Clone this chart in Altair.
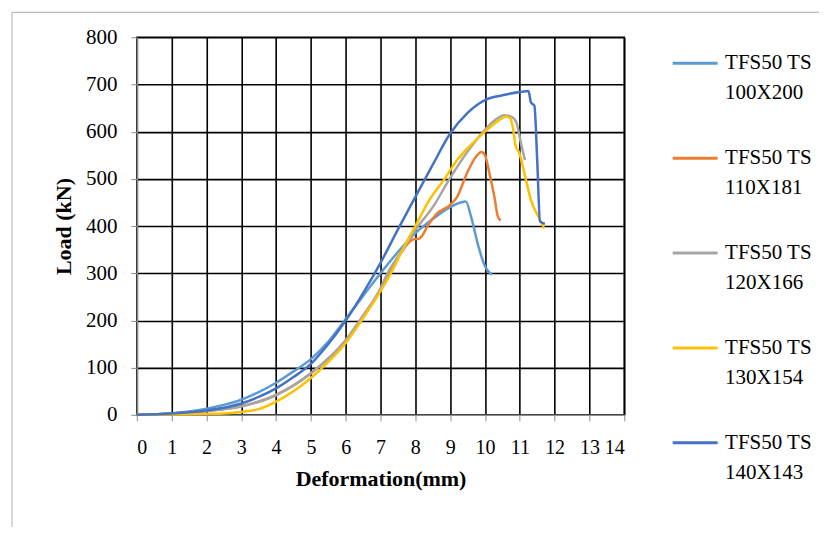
import altair as alt
import pandas as pd

series_names = [
    "TFS50 TS\n100X200",
    "TFS50 TS\n110X181",
    "TFS50 TS\n120X166",
    "TFS50 TS\n130X154",
    "TFS50 TS\n140X143",
]
colors = ["#5B9BD5", "#ED7D31", "#A5A5A5", "#FFC000", "#4472C4"]

x_100 = [0, 0.5, 1, 1.5, 2, 2.5, 3, 3.5, 4, 4.5, 5, 5.5, 6, 6.5, 7, 7.5, 8, 8.5, 9, 9.3, 9.45, 9.6, 9.8, 10.0, 10.2]
y_100 = [0, 1, 3, 7, 13, 21, 32, 48, 68, 92, 118, 155, 203, 252, 300, 345, 385, 415, 440, 450, 452, 420, 360, 315, 297]

x_110 = [0, 1, 2, 3, 4, 5, 6, 6.5, 7, 7.2, 7.6, 7.95, 8.1, 8.2, 8.35, 8.6, 9.0, 9.2, 9.5, 9.75, 9.9, 10.0, 10.13, 10.27, 10.37, 10.45]
y_110 = [0, 3, 8, 18, 42, 88, 158, 210, 265, 296, 345, 372, 373, 380, 400, 425, 445, 462, 515, 548, 557, 550, 511, 462, 420, 412]

x_120 = [0, 1, 2, 3, 4, 5, 6, 6.5, 7, 7.2, 7.6, 8, 8.5, 9, 9.5, 10, 10.3, 10.55, 10.75, 10.9, 10.98, 11.05, 11.15]
y_120 = [0, 3, 8, 18, 42, 88, 158, 210, 268, 300, 345, 392, 440, 502, 558, 604, 625, 635, 632, 620, 595, 570, 540]

x_130 = [0, 1, 2, 2.5, 3, 3.5, 4, 4.5, 5, 5.5, 6, 6.5, 7, 7.3, 7.6, 8, 8.4, 8.84, 9.2, 9.6, 10, 10.4, 10.6, 10.7, 10.8, 10.88, 10.98, 11.18, 11.32, 11.5, 11.7]
y_130 = [0, 1, 2, 3, 6, 12, 28, 50, 78, 112, 152, 205, 262, 300, 345, 400, 455, 500, 540, 572, 600, 624, 632, 630, 610, 570, 556, 497, 455, 425, 395]

x_140 = [0, 1, 2, 3, 3.5, 4, 4.5, 5, 5.5, 6, 6.5, 7, 7.5, 8, 8.5, 9, 9.5, 10, 10.5, 11, 11.25, 11.32, 11.42, 11.5, 11.58, 11.72]
y_140 = [0, 3, 9, 24, 38, 56, 80, 108, 150, 200, 258, 322, 393, 462, 530, 596, 640, 667, 677, 684, 686, 662, 655, 540, 410, 405]

all_x = [x_100, x_110, x_120, x_130, x_140]
all_y = [y_100, y_110, y_120, y_130, y_140]

rows = []
for name, xs, ys in zip(series_names, all_x, all_y):
    for i, (xv, yv) in enumerate(zip(xs, ys)):
        rows.append({"series": name, "x": xv, "y": yv, "i": i})
df = pd.DataFrame(rows)

x_ticks = list(range(0, 15))
y_ticks = list(range(0, 801, 100))

serif = "Liberation Serif, Times New Roman, Times, serif"

lines = alt.Chart(df).mark_line(strokeWidth=2.5, interpolate="monotone").encode(
    x=alt.X("x:Q",
            scale=alt.Scale(domain=[0, 14], nice=False, zero=False),
            axis=alt.Axis(values=x_ticks, title="Deformation(mm)", format="d",
                          labelFont=serif, labelFontSize=20, labelColor="black",
                          labelPadding=17, tickSize=6, tickColor="#8c8c8c",
                          domainColor="#8c8c8c", domainWidth=1.5,
                          titleFont=serif, titleFontSize=22, titleFontWeight="bold",
                          titleColor="black", titlePadding=11,
                          gridColor="black", gridWidth=1.6, gridOpacity=1)),
    y=alt.Y("y:Q",
            scale=alt.Scale(domain=[0, 800], nice=False),
            axis=alt.Axis(values=y_ticks, title="Load (kN)",
                          labelFont=serif, labelFontSize=21, labelColor="black",
                          labelPadding=14, tickSize=6, tickColor="#8c8c8c",
                          domainColor="#8c8c8c", domainWidth=1.5,
                          titleFont=serif, titleFontSize=22, titleFontWeight="bold",
                          titleColor="black", titlePadding=10,
                          gridColor="black", gridWidth=1.6, gridOpacity=1)),
    color=alt.Color("series:N",
                    scale=alt.Scale(domain=series_names, range=colors),
                    sort=series_names,
                    legend=alt.Legend(title=None, orient="none", legendX=535, legendY=2,
                                      symbolType="stroke", symbolSize=2025,
                                      symbolStrokeWidth=3, labelFont=serif,
                                      labelFontSize=21, labelColor="black",
                                      labelExpr="split(datum.label, '\\n')",
                                      rowPadding=31, labelOffset=6, labelLimit=300,
                                      labelBaseline="middle", padding=0)),
    order=alt.Order("i:Q"),
)

border = alt.Chart(alt.Data(values=[{}])).mark_rect(
    fill=None, stroke="#bdbdbd", strokeWidth=1.2
).encode(
    x=alt.value(-125), y=alt.value(-25), x2=alt.value(720), y2=alt.value(560)
)

chart = alt.layer(border, lines).properties(
    width=488, height=378,
    padding={"left": 129, "top": 29, "right": 195, "bottom": 112},
    autosize="none",
).configure(
    font=serif,
    style={"guide-label": {"lineHeight": 30}},
).configure_view(
    stroke="black", strokeWidth=1.6
)

chart.save("out.html", embed_options={"renderer": "svg", "actions": False})
